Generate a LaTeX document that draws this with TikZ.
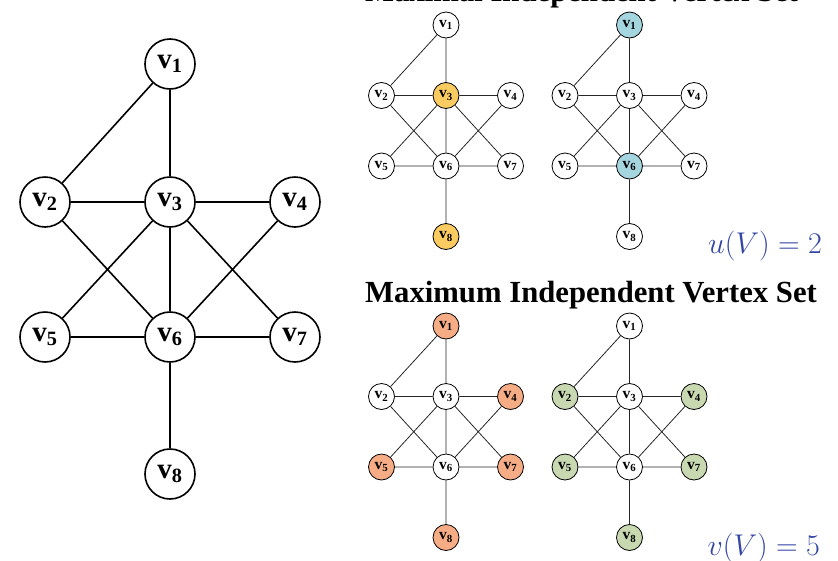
\RequirePackage{fix-cm}
\documentclass[tikz,border=0pt]{standalone}
\usepackage[no-math]{fontspec}
\setmainfont{Liberation Serif}
\definecolor{cyel}{RGB}{249,203,96}
\definecolor{cblu}{RGB}{165,214,224}
\definecolor{csal}{RGB}{246,172,132}
\definecolor{cgrn}{RGB}{200,216,176}
\definecolor{cmath}{RGB}{52,70,165}
\newcommand\vlab[1]{\textbf{v\textsubscript{#1}}}
\tikzset{
 bigv/.style={circle,draw,line width=1.6pt,minimum size=50pt,inner sep=0pt,fill=white,font=\fontsize{29}{30}\selectfont\bfseries},
 bige/.style={line width=1.6pt},
 smv/.style={circle,draw,line width=0.8pt,minimum size=26pt,inner sep=0pt,font=\fontsize{15.5}{16}\selectfont\bfseries},
 sme/.style={line width=0.8pt,draw=black!85},
 ttl/.style={anchor=base west,inner sep=0pt,font=\fontsize{30.7}{36}\selectfont\bfseries},
 mlab/.style={anchor=base east,inner sep=0pt,text=cmath,font=\fontsize{30}{36}\selectfont},
}
\newcommand\smallgraph[9]{%
 \node[smv,fill=#2] (#1v1) at (0,0) {\vlab{1}};
 \node[smv,fill=#3] (#1v2) at (-64.5,70.5) {\vlab{2}};
 \node[smv,fill=#4] (#1v3) at (0,70.5) {\vlab{3}};
 \node[smv,fill=#5] (#1v4) at (64.5,70.5) {\vlab{4}};
 \node[smv,fill=#6] (#1v5) at (-64.5,141) {\vlab{5}};
 \node[smv,fill=#7] (#1v6) at (0,141) {\vlab{6}};
 \node[smv,fill=#8] (#1v7) at (64.5,141) {\vlab{7}};
 \node[smv,fill=#9] (#1v8) at (0,211.5) {\vlab{8}};
 \draw[sme] (#1v1)--(#1v2) (#1v1)--(#1v3) (#1v2)--(#1v3) (#1v3)--(#1v4)
   (#1v2)--(#1v6) (#1v3)--(#1v5) (#1v3)--(#1v6) (#1v3)--(#1v7)
   (#1v4)--(#1v6) (#1v5)--(#1v6) (#1v6)--(#1v7) (#1v6)--(#1v8);
}
\begin{document}
\begin{tikzpicture}[x=1pt,y=-1pt]
\useasboundingbox (0,0) rectangle (838,560);
% large graph
\node[bigv] (v1) at (170,64) {\vlab{1}};
\node[bigv] (v2) at (45,202) {\vlab{2}};
\node[bigv] (v3) at (170,202) {\vlab{3}};
\node[bigv] (v4) at (295,202) {\vlab{4}};
\node[bigv] (v5) at (45,337) {\vlab{5}};
\node[bigv] (v6) at (170,337) {\vlab{6}};
\node[bigv] (v7) at (295,337) {\vlab{7}};
\node[bigv] (v8) at (170,474) {\vlab{8}};
\draw[bige] (v1)--(v2) (v1)--(v3) (v2)--(v3) (v3)--(v4)
  (v2)--(v6) (v3)--(v5) (v3)--(v6) (v3)--(v7)
  (v4)--(v6) (v5)--(v6) (v6)--(v7) (v6)--(v8);
% titles
\node[ttl] (t1) at (365,1) {Maximal Independent Vertex Set};
\node[ttl] (t2) at (365,302) {Maximum Independent Vertex Set};
% small graphs
\begin{scope}[shift={(446,25)}]
\smallgraph{a}{white}{white}{cyel}{white}{white}{white}{white}{cyel}
\end{scope}
\begin{scope}[shift={(629.5,25)}]
\smallgraph{b}{cblu}{white}{white}{white}{white}{cblu}{white}{white}
\end{scope}
\begin{scope}[shift={(446,326)}]
\smallgraph{c}{csal}{white}{white}{csal}{csal}{white}{csal}{csal}
\end{scope}
\begin{scope}[shift={(629.5,326)}]
\smallgraph{d}{white}{cgrn}{white}{cgrn}{cgrn}{white}{cgrn}{cgrn}
\end{scope}
% numbers
\node[mlab] (m1) at (822,253) {$u(V) = 2$};
\node[mlab] (m2) at (820,555) {$v(V) = 5$};
\end{tikzpicture}
\end{document}
